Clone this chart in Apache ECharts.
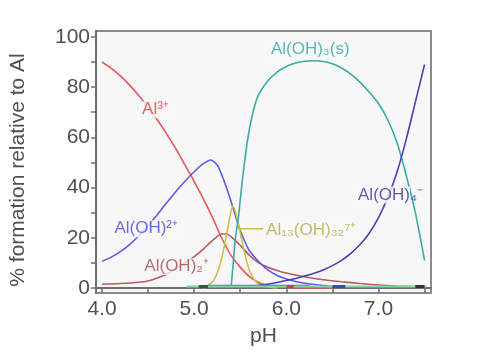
<!DOCTYPE html>
<html><head><meta charset="utf-8">
<script src="https://cdn.jsdelivr.net/npm/echarts@6/dist/echarts.min.js"></script>
<style>html,body{margin:0;padding:0;background:#fff}#c{width:479px;height:352px}</style>
</head><body><div id="c"></div>
<script>
// Al3+
const phAl3 = [4.0,4.1,4.2,4.3,4.4,4.5,4.6,4.7,4.8,4.9,5.0,5.1,5.2,5.3,5.4,5.5,5.6,5.7,5.8,5.9,6.0,6.2,6.5];
const al3   = [90,87.5,84.5,80.8,76.6,72,67,61.5,55.5,49,42.5,35.5,28,19.8,13,8.3,4.5,2.2,1,0.5,0.2,0,0];
// Al(OH)2+
const phAlOH = [4.0,4.1,4.2,4.3,4.4,4.5,4.6,4.7,4.8,4.9,5.0,5.1,5.18,5.25,5.3,5.35,5.4,5.45,5.5,5.55,5.6,5.7,5.8,5.9,6.0,6.1,6.2,6.4,6.6,6.8,7.0];
const alOH   = [10.6,12.3,14.5,17.3,20.8,24.8,29.2,33.8,38.3,42.5,46.3,49.5,51,49,45,40,34.5,28.5,23,18.5,14.8,10.5,7.2,5,3.6,2.6,1.9,1,0.5,0.3,0.2];
// Al(OH)2 +
const phAlOH2 = [4.0,4.2,4.4,4.5,4.6,4.7,4.8,4.9,5.0,5.1,5.2,5.3,5.35,5.4,5.5,5.6,5.7,5.8,5.9,6.0,6.2,6.4,6.6,6.8,7.0,7.2,7.5];
const alOH2   = [1.5,1.8,2.3,2.8,4,5.5,7.5,10,12.5,15.5,19,21.5,21.5,20.5,17,13,10,8.3,7,6,4.5,3.3,2.5,1.8,1.2,0.8,0.4];
// Al13(OH)32 7+
const phAl13 = [5.1,5.2,5.25,5.3,5.35,5.4,5.42,5.45,5.5,5.55,5.6,5.65,5.7,5.8,5.9];
const al13   = [0,2.5,6,12,21,30.5,32.5,30,22,13.5,7,3.5,1.5,0.5,0];
// Al(OH)3(s)
const phAlOH3 = [5.4,5.42,5.44,5.46,5.48,5.5,5.52,5.55,5.58,5.62,5.66,5.7,5.8,5.9,6.0,6.1,6.2,6.3,6.4,6.5,6.6,6.7,6.8,6.9,7.0,7.1,7.2,7.3,7.4,7.5];
const alOH3   = [0,8,17,23,28,35,42,51,59,67,73,77,82.5,86,88.2,89.6,90.3,90.5,90.2,89.3,87.6,85.2,82,78,73.5,67,58,45,30,11];
// Al(OH)4-
const phAlOH4 = [5.6,5.7,5.8,5.9,6.0,6.1,6.2,6.3,6.4,6.5,6.6,6.7,6.8,6.9,7.0,7.1,7.2,7.3,7.4,7.5];
const alOH4   = [0.5,1,1.5,2.2,3,3.8,4.8,5.9,7.2,8.9,11,13.8,17.3,21.8,28,36,46,59,74,89];
// baseline traces near zero
const phGreen = [4.92,7.52];
const green   = [0.6,0.6];
const phLowBlue = [5.15,6.25];
const lowBlue   = [1,1];
// short dark traces on the baseline
const darkStart = [5.05,6.0,6.5,7.4];
const darkEnd   = [5.15,6.08,6.64,7.5];
const darkPct   = [0.6,0.6,0.6,0.6];
const darkColors = ['#2f5a3a','#b0503a','#3a46c0','#333333'];
// leader line for Al13 label
const phLeader = [5.48,5.75];
const leader   = [23.6,23.6];

// tick labels
const xTickLabels = [4,5,6,7];
const xTicks = [4,4.5,5,5.5,6,6.5,7,7.5];
const yTickLabels = [0,20,40,60,80,100];
const yTicks = [0,10,20,30,40,50,60,70,80,90,100];

// in-plot species labels
const labelTexts = ['Al³⁺','Al(OH)²⁺','Al(OH)₂⁺','Al₁₃(OH)₃₂⁷⁺','Al(OH)₃(s)','Al(OH)₄⁻'];
const labelPH    = [4.58,4.48,4.81,6.27,6.26,7.13];
const labelPct   = [71,23.6,8.6,23,95,37];
const labelColors = ['#e33b3b','#4848dc','#a64a4a','#b4ad3c','#2fa69f','#3b3398'];

const PLOT_BG = '#f7f7f7';
function pairs(xs, ys){ return xs.map((x,i)=>[x, ys[i]]); }
function line(name, xs, ys, color, w){
  return {type:'line', name, data:pairs(xs,ys), showSymbol:false, symbol:'none',
    smooth:0.25, lineStyle:{color, width:w||1.6}, z:2};
}

const chart = echarts.init(document.getElementById('c'));
const labelData = labelTexts.map((t,i)=>{
  const item = {value:[labelPH[i], labelPct[i]], label:{color:labelColors[i]}};
  if (i === 5) {
    item.label.formatter = '{b|Al(OH)}{n|₄⁻}';
    item.label.rich = {b:{color:labelColors[i], backgroundColor:PLOT_BG, fontSize:17, fontFamily:'Liberation Sans'},
                       n:{color:labelColors[i], fontSize:17, fontFamily:'Liberation Sans'}};
    item.label.backgroundColor = 'transparent';
  } else {
    item.label.formatter = t;
  }
  return item;
});

const darkSeries = darkStart.map((s,i)=>({type:'line', name:'dark'+i,
  data:[[s,darkPct[i]],[darkEnd[i],darkPct[i]]], showSymbol:false, symbol:'none',
  lineStyle:{color:darkColors[i], width:3}, z:3}));

chart.setOption({
  animation:false,
  backgroundColor:'#ffffff',
  grid:{left:95, right:48, top:31, bottom:55, show:true, backgroundColor:PLOT_BG, borderColor:'#8a8a8a', borderWidth:2},
  xAxis:{type:'value', min:3.935, max:7.57,
    name:'pH', nameLocation:'middle', nameGap:33,
    nameTextStyle:{fontSize:21, color:'#505050', fontFamily:'Liberation Sans'},
    axisLine:{show:true, lineStyle:{color:'#6e6e6e', width:2}},
    axisTick:{show:true, inside:false, length:5, customValues:xTicks, lineStyle:{color:'#6e6e6e', width:1.5}},
    axisLabel:{customValues:xTickLabels, margin:6, fontSize:21, color:'#505050', fontFamily:'Liberation Sans',
      formatter:v=>Number(v).toFixed(1)},
    splitLine:{show:false}},
  yAxis:{type:'value', min:-2, max:102.35,
    name:'% formation relative to Al', nameLocation:'middle', nameGap:67, nameRotate:90,
    nameTextStyle:{fontSize:21, color:'#505050', fontFamily:'Liberation Sans', padding:[0,16,0,0]},
    axisLine:{show:true, lineStyle:{color:'#6e6e6e', width:2}},
    axisTick:{show:true, inside:false, length:5, customValues:yTicks, lineStyle:{color:'#6e6e6e', width:1.5}},
    axisLabel:{customValues:yTickLabels, margin:6, fontSize:21, color:'#505050', fontFamily:'Liberation Sans'},
    splitLine:{show:false}},
  series:[
    line('Al(OH)2+', phAlOH2, alOH2, '#b85c5c'),
    line('Al3+', phAl3, al3, '#e8585a'),
    line('Al(OH)2+ ', phAlOH, alOH, '#5c5ce6'),
    line('Al13', phAl13, al13, '#c9c24a'),
    line('Al(OH)3(s)', phAlOH3, alOH3, '#3aaca5'),
    line('Al(OH)4-', phAlOH4, alOH4, '#4a3fb5'),
    line('lowblue', phLowBlue, lowBlue, '#4f63d6'),
    line('green', phGreen, green, '#7fd69e', 2),
    ...darkSeries,
    {type:'line', name:'leader', data:pairs(phLeader, leader), showSymbol:false, symbol:'none',
      lineStyle:{color:'#c9c24a', width:1.4}, z:2},
    {type:'scatter', name:'labels', data:labelData, symbolSize:0, z:10,
      label:{show:true, position:'inside', fontSize:17, fontFamily:'Liberation Sans',
        backgroundColor:PLOT_BG, padding:[0,1]}}
  ]
});
</script></body></html>
